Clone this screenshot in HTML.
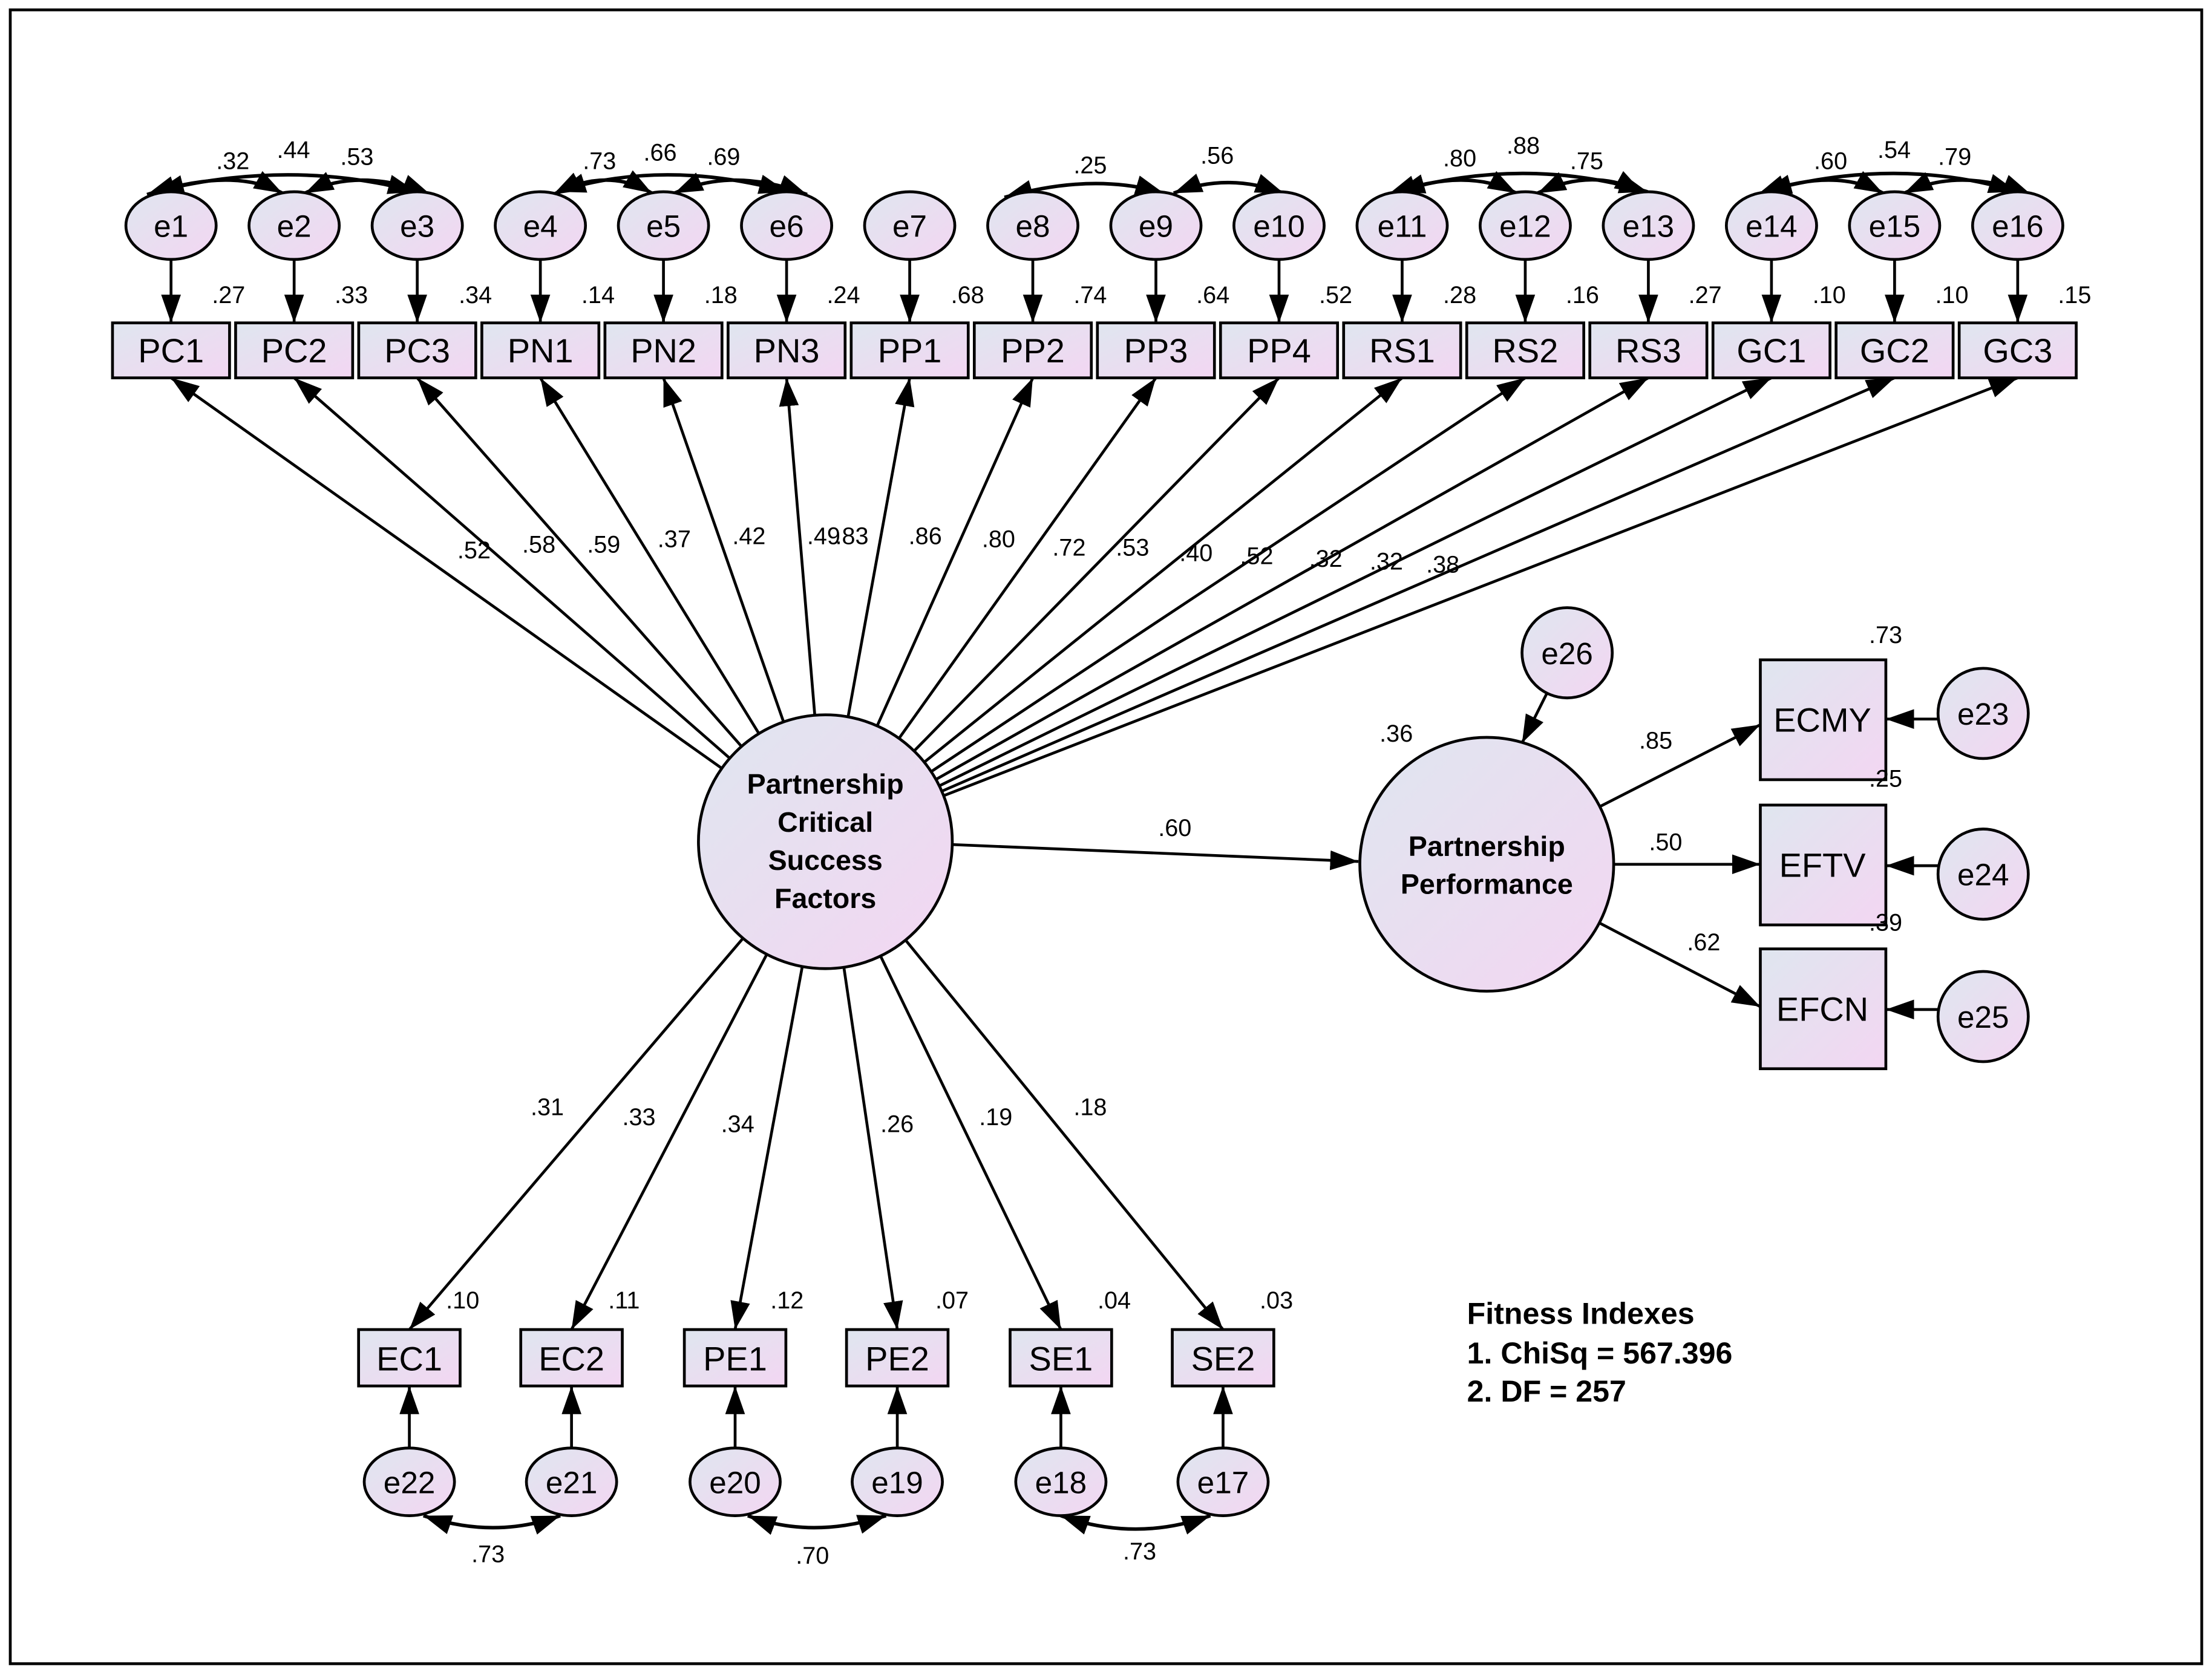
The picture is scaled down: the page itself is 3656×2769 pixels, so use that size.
<!DOCTYPE html>
<html><head><meta charset="utf-8"><style>
html,body{margin:0;padding:0;background:#fff}
svg{display:block}
text{font-family:"Liberation Sans",Arial,sans-serif;fill:#000}
.s{font-size:17px}
.b{font-size:24px;text-anchor:middle}
.e{font-size:22px;text-anchor:middle}
.c{font-size:20px;font-weight:bold;text-anchor:middle}
</style></head><body>
<svg width="3656" height="2769" viewBox="0 0 1568 1188" xmlns="http://www.w3.org/2000/svg">
<defs>
<linearGradient id="g" x1="0" y1="0" x2="1" y2="1"><stop offset="0" stop-color="#dfe6ef"/><stop offset="1" stop-color="#f3d6f2"/></linearGradient>
<marker id="a" markerUnits="userSpaceOnUse" markerWidth="22" markerHeight="16" refX="20" refY="7" orient="auto"><path d="M0,0 L20,7 L0,14 z" fill="#000"/></marker>
<marker id="a2" markerUnits="userSpaceOnUse" markerWidth="22" markerHeight="16" refX="20" refY="7" orient="auto-start-reverse"><path d="M0,0 L20,7 L0,14 z" fill="#000"/></marker>
</defs>
<rect x="0" y="0" width="1568" height="1188" fill="#fff"/>
<rect x="7" y="7" width="1554" height="1173" fill="none" stroke="#000" stroke-width="2"/>

<g stroke="#000" stroke-width="2" fill="none" marker-end="url(#a)">
<line x1="585" y1="597" x2="121" y2="268"/>
<line x1="585" y1="597" x2="208.3" y2="268"/>
<line x1="585" y1="597" x2="295.6" y2="268"/>
<line x1="585" y1="597" x2="382.9" y2="268"/>
<line x1="585" y1="597" x2="470.2" y2="268"/>
<line x1="585" y1="597" x2="557.5" y2="268"/>
<line x1="585" y1="597" x2="644.8" y2="268"/>
<line x1="585" y1="597" x2="732.1" y2="268"/>
<line x1="585" y1="597" x2="819.4" y2="268"/>
<line x1="585" y1="597" x2="906.7" y2="268"/>
<line x1="585" y1="597" x2="994" y2="268"/>
<line x1="585" y1="597" x2="1081.3" y2="268"/>
<line x1="585" y1="597" x2="1168.6" y2="268"/>
<line x1="585" y1="597" x2="1255.9" y2="268"/>
<line x1="585" y1="597" x2="1343.2" y2="268"/>
<line x1="585" y1="597" x2="1430.5" y2="268"/>
<line x1="585" y1="597" x2="290" y2="943"/>
<line x1="585" y1="597" x2="405" y2="943"/>
<line x1="585" y1="597" x2="521" y2="943"/>
<line x1="585" y1="597" x2="636" y2="943"/>
<line x1="585" y1="597" x2="752" y2="943"/>
<line x1="585" y1="597" x2="867" y2="943"/>
<line x1="675" y1="599" x2="963" y2="611"/>
<line x1="1054" y1="613" x2="1248" y2="514"/>
<line x1="1054" y1="613" x2="1248" y2="613"/>
<line x1="1054" y1="613" x2="1248" y2="714"/>
<line x1="1111" y1="463" x2="1079" y2="527"/>
<line x1="1406" y1="510" x2="1337" y2="510"/>
<line x1="1406" y1="614" x2="1337" y2="614"/>
<line x1="1406" y1="716" x2="1337" y2="716"/>
<line x1="121" y1="184" x2="121" y2="229"/>
<line x1="208.3" y1="184" x2="208.3" y2="229"/>
<line x1="295.6" y1="184" x2="295.6" y2="229"/>
<line x1="382.9" y1="184" x2="382.9" y2="229"/>
<line x1="470.2" y1="184" x2="470.2" y2="229"/>
<line x1="557.5" y1="184" x2="557.5" y2="229"/>
<line x1="644.8" y1="184" x2="644.8" y2="229"/>
<line x1="732.1" y1="184" x2="732.1" y2="229"/>
<line x1="819.4" y1="184" x2="819.4" y2="229"/>
<line x1="906.7" y1="184" x2="906.7" y2="229"/>
<line x1="994" y1="184" x2="994" y2="229"/>
<line x1="1081.3" y1="184" x2="1081.3" y2="229"/>
<line x1="1168.6" y1="184" x2="1168.6" y2="229"/>
<line x1="1255.9" y1="184" x2="1255.9" y2="229"/>
<line x1="1343.2" y1="184" x2="1343.2" y2="229"/>
<line x1="1430.5" y1="184" x2="1430.5" y2="229"/>
<line x1="290" y1="1027" x2="290" y2="983"/>
<line x1="405" y1="1027" x2="405" y2="983"/>
<line x1="521" y1="1027" x2="521" y2="983"/>
<line x1="636" y1="1027" x2="636" y2="983"/>
<line x1="752" y1="1027" x2="752" y2="983"/>
<line x1="867" y1="1027" x2="867" y2="983"/>
</g>

<g stroke="#000" stroke-width="2.5" fill="none" marker-start="url(#a2)" marker-end="url(#a2)">
<path d="M104,138 Q165,118 200,137"/>
<path d="M216,137 Q255,118 305,138"/>
<path d="M110,136 Q205,112 295,136"/>
<path d="M392,138 Q430,118 462,137"/>
<path d="M478,137 Q520,118 572,138"/>
<path d="M395,136 Q470,112 558,136"/>
<path d="M712,140 Q775,122 825,137"/>
<path d="M832,137 Q870,122 910,137"/>
<path d="M984,138 Q1040,118 1075,137"/>
<path d="M1090,137 Q1130,118 1165,137"/>
<path d="M990,136 Q1080,110 1168,136"/>
<path d="M1246,138 Q1300,118 1335,137"/>
<path d="M1350,137 Q1390,118 1440,138"/>
<path d="M1250,136 Q1345,110 1430,136"/>
<path d="M300,1075 Q350,1092 397,1075"/>
<path d="M530,1075 Q575,1092 628,1075"/>
<path d="M752,1075 Q805,1094 858,1075"/>
</g>

<g fill="url(#g)" stroke="#000" stroke-width="2">
<circle cx="585" cy="597" r="90"/>
<circle cx="1054" cy="613" r="90"/>
<circle cx="1111" cy="463" r="32"/>
<circle cx="1406" cy="506" r="32"/>
<circle cx="1406" cy="620" r="32"/>
<circle cx="1406" cy="721" r="32"/>
<rect x="1248" y="468" width="89" height="85"/>
<rect x="1248" y="571" width="89" height="85"/>
<rect x="1248" y="673" width="89" height="85"/>
<ellipse cx="121" cy="160" rx="32" ry="24"/>
<ellipse cx="208.3" cy="160" rx="32" ry="24"/>
<ellipse cx="295.6" cy="160" rx="32" ry="24"/>
<ellipse cx="382.9" cy="160" rx="32" ry="24"/>
<ellipse cx="470.2" cy="160" rx="32" ry="24"/>
<ellipse cx="557.5" cy="160" rx="32" ry="24"/>
<ellipse cx="644.8" cy="160" rx="32" ry="24"/>
<ellipse cx="732.1" cy="160" rx="32" ry="24"/>
<ellipse cx="819.4" cy="160" rx="32" ry="24"/>
<ellipse cx="906.7" cy="160" rx="32" ry="24"/>
<ellipse cx="994" cy="160" rx="32" ry="24"/>
<ellipse cx="1081.3" cy="160" rx="32" ry="24"/>
<ellipse cx="1168.6" cy="160" rx="32" ry="24"/>
<ellipse cx="1255.9" cy="160" rx="32" ry="24"/>
<ellipse cx="1343.2" cy="160" rx="32" ry="24"/>
<ellipse cx="1430.5" cy="160" rx="32" ry="24"/>
<rect x="79.5" y="229" width="83" height="39"/>
<rect x="166.8" y="229" width="83" height="39"/>
<rect x="254.1" y="229" width="83" height="39"/>
<rect x="341.4" y="229" width="83" height="39"/>
<rect x="428.7" y="229" width="83" height="39"/>
<rect x="516" y="229" width="83" height="39"/>
<rect x="603.3" y="229" width="83" height="39"/>
<rect x="690.6" y="229" width="83" height="39"/>
<rect x="777.9" y="229" width="83" height="39"/>
<rect x="865.2" y="229" width="83" height="39"/>
<rect x="952.5" y="229" width="83" height="39"/>
<rect x="1039.8" y="229" width="83" height="39"/>
<rect x="1127.1" y="229" width="83" height="39"/>
<rect x="1214.4" y="229" width="83" height="39"/>
<rect x="1301.7" y="229" width="83" height="39"/>
<rect x="1389" y="229" width="83" height="39"/>
<rect x="254" y="943" width="72" height="40"/>
<rect x="369" y="943" width="72" height="40"/>
<rect x="485" y="943" width="72" height="40"/>
<rect x="600" y="943" width="72" height="40"/>
<rect x="716" y="943" width="72" height="40"/>
<rect x="831" y="943" width="72" height="40"/>
<ellipse cx="290" cy="1051" rx="32" ry="24"/>
<ellipse cx="405" cy="1051" rx="32" ry="24"/>
<ellipse cx="521" cy="1051" rx="32" ry="24"/>
<ellipse cx="636" cy="1051" rx="32" ry="24"/>
<ellipse cx="752" cy="1051" rx="32" ry="24"/>
<ellipse cx="867" cy="1051" rx="32" ry="24"/>
</g>

<g class="e">
<text x="121" y="168">e1</text><text x="208.3" y="168">e2</text><text x="295.6" y="168">e3</text>
<text x="382.9" y="168">e4</text><text x="470.2" y="168">e5</text><text x="557.5" y="168">e6</text>
<text x="644.8" y="168">e7</text><text x="732.1" y="168">e8</text><text x="819.4" y="168">e9</text>
<text x="906.7" y="168">e10</text><text x="994" y="168">e11</text><text x="1081.3" y="168">e12</text>
<text x="1168.6" y="168">e13</text><text x="1255.9" y="168">e14</text><text x="1343.2" y="168">e15</text>
<text x="1430.5" y="168">e16</text>
<text x="290" y="1059">e22</text><text x="405" y="1059">e21</text><text x="521" y="1059">e20</text>
<text x="636" y="1059">e19</text><text x="752" y="1059">e18</text><text x="867" y="1059">e17</text>
<text x="1111" y="471">e26</text><text x="1406" y="514">e23</text><text x="1406" y="628">e24</text><text x="1406" y="729">e25</text>
</g>
<g class="b">
<text x="121" y="257">PC1</text><text x="208.3" y="257">PC2</text><text x="295.6" y="257">PC3</text>
<text x="382.9" y="257">PN1</text><text x="470.2" y="257">PN2</text><text x="557.5" y="257">PN3</text>
<text x="644.8" y="257">PP1</text><text x="732.1" y="257">PP2</text><text x="819.4" y="257">PP3</text>
<text x="906.7" y="257">PP4</text><text x="994" y="257">RS1</text><text x="1081.3" y="257">RS2</text>
<text x="1168.6" y="257">RS3</text><text x="1255.9" y="257">GC1</text><text x="1343.2" y="257">GC2</text>
<text x="1430.5" y="257">GC3</text>
<text x="290" y="972">EC1</text><text x="405" y="972">EC2</text><text x="521" y="972">PE1</text>
<text x="636" y="972">PE2</text><text x="752" y="972">SE1</text><text x="867" y="972">SE2</text>
<text x="1292" y="519">ECMY</text><text x="1292" y="622">EFTV</text><text x="1292" y="724">EFCN</text>
</g>
<g class="c">
<text x="585" y="563">Partnership</text><text x="585" y="590">Critical</text>
<text x="585" y="617">Success</text><text x="585" y="644">Factors</text>
<text x="1054" y="607">Partnership</text><text x="1054" y="634">Performance</text>
</g>
<g class="s">
<text x="153" y="120">.32</text><text x="196" y="112">.44</text><text x="241" y="117">.53</text>
<text x="413" y="120">.73</text><text x="456" y="114">.66</text><text x="501" y="117">.69</text>
<text x="761" y="123">.25</text><text x="851" y="116">.56</text>
<text x="1023" y="118">.80</text><text x="1068" y="109">.88</text><text x="1113" y="120">.75</text>
<text x="1286" y="120">.60</text><text x="1331" y="112">.54</text><text x="1374" y="117">.79</text>
<text x="150" y="215">.27</text><text x="237" y="215">.33</text><text x="325" y="215">.34</text>
<text x="412" y="215">.14</text><text x="499" y="215">.18</text><text x="586" y="215">.24</text>
<text x="674" y="215">.68</text><text x="761" y="215">.74</text><text x="848" y="215">.64</text>
<text x="935" y="215">.52</text><text x="1023" y="215">.28</text><text x="1110" y="215">.16</text>
<text x="1197" y="215">.27</text><text x="1285" y="215">.10</text><text x="1372" y="215">.10</text>
<text x="1459" y="215">.15</text>
<text x="324" y="396">.52</text><text x="370" y="392">.58</text><text x="416" y="392">.59</text>
<text x="466" y="388">.37</text><text x="519" y="386">.42</text><text x="572" y="386">.49</text>
<text x="592" y="386">.83</text><text x="644" y="386">.86</text><text x="696" y="388">.80</text>
<text x="746" y="394">.72</text><text x="791" y="394">.53</text><text x="836" y="398">.40</text>
<text x="879" y="400">.52</text><text x="928" y="402">.32</text><text x="971" y="404">.32</text>
<text x="1011" y="406">.38</text>
<text x="376" y="791">.31</text><text x="441" y="798">.33</text><text x="511" y="803">.34</text>
<text x="624" y="803">.26</text><text x="694" y="798">.19</text><text x="761" y="791">.18</text>
<text x="316" y="928">.10</text><text x="431" y="928">.11</text><text x="546" y="928">.12</text>
<text x="663" y="928">.07</text><text x="778" y="928">.04</text><text x="893" y="928">.03</text>
<text x="334" y="1108">.73</text><text x="564" y="1109">.70</text><text x="796" y="1106">.73</text>
<text x="821" y="593">.60</text><text x="978" y="526">.36</text>
<text x="1162" y="531">.85</text><text x="1169" y="603">.50</text><text x="1196" y="674">.62</text>
<text x="1325" y="456">.73</text><text x="1325" y="558">.25</text><text x="1325" y="660">.39</text>
</g>
<g style="font-size:21.5px;font-weight:bold">
<text x="1040" y="939">Fitness Indexes</text>
<text x="1040" y="967">1. ChiSq = 567.396</text>
<text x="1040" y="994">2. DF = 257</text>
</g>
</svg>
</body></html>
